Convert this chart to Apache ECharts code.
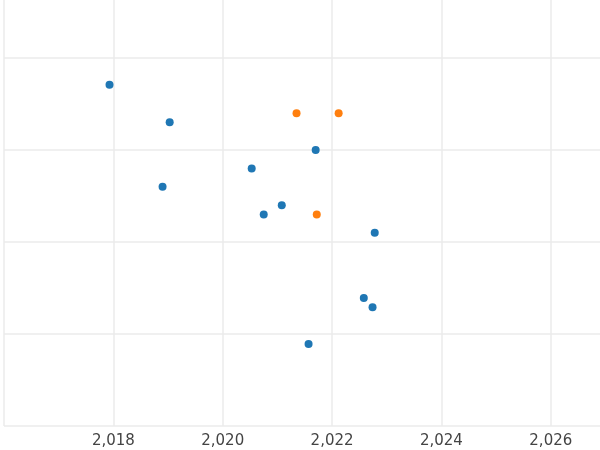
<!DOCTYPE html>
<html>
<head>
<meta charset="utf-8">
<script src="https://cdn.jsdelivr.net/npm/echarts@6/dist/echarts.min.js"></script>
<style>html,body{margin:0;padding:0;background:#fff}#chart{width:600px;height:450px}</style>
</head>
<body>
<div id="chart"></div>
<script>
var blueYears = [2017.93, 2019.03, 2020.53, 2018.90, 2021.70, 2020.75, 2021.08, 2022.78, 2022.58, 2022.74, 2021.57];
var blueValues = [3.71, 3.30, 2.80, 2.60, 3.00, 2.30, 2.40, 2.10, 1.39, 1.29, 0.89];
var orangeYears = [2021.35, 2022.12, 2021.72];
var orangeValues = [3.40, 3.40, 2.30];

function pairs(xs, ys) {
	var out = [];
	for (var i = 0; i < xs.length; i++) {
		out.push([xs[i], ys[i]]);
	}
	return out;
}

var myChart = echarts.init(document.getElementById('chart'));
var option = {
	animation: false,
	grid: { left: 4, right: 0, top: 0, bottom: 24, outerBoundsMode: 'none', containLabel: false },
	xAxis: {
		type: 'value', min: 2016, max: 2026.9, interval: 2,
		axisLine: { show: false }, axisTick: { show: false },
		axisLabel: { color: '#444', fontSize: 15, fontFamily: 'DejaVu Sans', margin: 8,
			showMinLabel: false, showMaxLabel: false },
		splitLine: { showMaxLine: false, lineStyle: { color: '#ebebeb', width: 1.5 } }
	},
	yAxis: {
		type: 'value', min: 0, max: 4.63, interval: 1,
		axisLine: { show: false }, axisTick: { show: false },
		axisLabel: { show: false },
		splitLine: { showMaxLine: false, lineStyle: { color: '#ebebeb', width: 1.5 } }
	},
	series: [
		{ type: 'scatter', data: pairs(blueYears, blueValues), symbolSize: 8, itemStyle: { color: '#1f77b4', opacity: 1 } },
		{ type: 'scatter', data: pairs(orangeYears, orangeValues), symbolSize: 8, itemStyle: { color: '#ff7f0e', opacity: 1 } }
	]
};
myChart.setOption(option, true);
</script>
</body>
</html>
